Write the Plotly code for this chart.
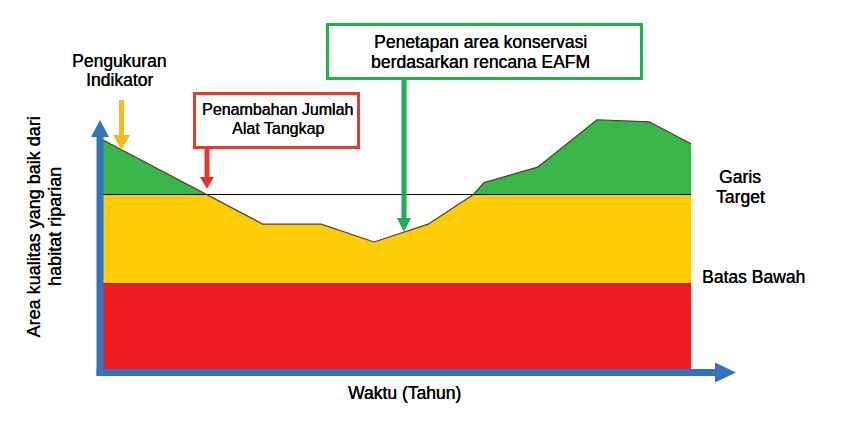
import numpy as np
import plotly.graph_objects as go

# ---------------- data ----------------
years = [0, 17.6, 27.2, 37.1, 46.1, 55.3, 63.0, 64.8, 73.9, 84.0, 92.9, 100]
quality = [78.4, 60, 50, 50, 44, 50, 60, 64, 69.2, 85.2, 84.5, 77.1]
target_level = 60
lower_level = 30
band_x = [0, 100]

x_title = "Waktu (Tahun)"
y_title_lines = ["Area kualitas yang baik dari", "habitat riparian"]
target_label = ["Garis", "Target"]
lower_label = "Batas Bawah"
note_measure = ["Pengukuran", "Indikator"]
note_gear = ["Penambahan Jumlah", "Alat Tangkap"]
note_conserve = ["Penetapan area konservasi", "berdasarkan rencana EAFM"]

# ---------------- styling ----------------
W, H = 852, 424
GREEN = "#39B54A"
YELLOW = "#FFCC06"
RED = "#ED1C24"
BLUE = "#3474BA"
FONT = "Liberation Sans, Arial, sans-serif"

# page-pixel -> data helpers (for decorations only)
PX_PER_X = 5.88
PX_PER_Y = 2.9667
X0_PX, Y0_PX = 103, 372.5


def X(px):
    return (px - X0_PX) / PX_PER_X


def Y(py):
    return (Y0_PX - py) / PX_PER_Y


q = np.array(quality, dtype=float)
yellow_top = np.minimum(q, target_level)
green_top = np.maximum(q, target_level)

fig = go.Figure()

# red band
fig.add_trace(go.Scatter(x=band_x, y=[lower_level] * 2, mode="lines",
                         fill="tozeroy", fillcolor=RED,
                         line=dict(width=0), hoverinfo="skip"))
# yellow band
fig.add_trace(go.Scatter(x=years, y=yellow_top, mode="lines",
                         fill="tonexty", fillcolor=YELLOW,
                         line=dict(width=0), hoverinfo="skip"))
# base at target for green fill
fig.add_trace(go.Scatter(x=band_x, y=[target_level] * 2, mode="lines",
                         line=dict(width=0), hoverinfo="skip"))
fig.add_trace(go.Scatter(x=years, y=green_top, mode="lines",
                         fill="tonexty", fillcolor=GREEN,
                         line=dict(width=0), hoverinfo="skip"))
# lower limit line
fig.add_trace(go.Scatter(x=band_x, y=[lower_level] * 2, mode="lines",
                         line=dict(color="#9A1C1C", width=1.2), hoverinfo="skip"))
# target line
fig.add_trace(go.Scatter(x=band_x, y=[target_level] * 2, mode="lines",
                         line=dict(color="#000000", width=1.1), hoverinfo="skip"))
# quality curve outline
fig.add_trace(go.Scatter(x=years, y=quality, mode="lines",
                         line=dict(color="#45452E", width=1.2), hoverinfo="skip"))

shapes = []


def seg(x0, y0, x1, y1, color, width):
    shapes.append(dict(type="line", xref="x", yref="y",
                       x0=X(x0), y0=Y(y0), x1=X(x1), y1=Y(y1),
                       line=dict(color=color, width=width)))


def tri(pts, color):
    path = "M " + " L ".join(f"{X(a):.4f},{Y(b):.4f}" for a, b in pts) + " Z"
    shapes.append(dict(type="path", xref="x", yref="y", path=path,
                       fillcolor=color, line=dict(width=0)))


def box(x0, y0, x1, y1, color):
    shapes.append(dict(type="rect", xref="x", yref="y",
                       x0=X(x0), y0=Y(y0), x1=X(x1), y1=Y(y1),
                       fillcolor="white", line=dict(color=color, width=3)))


# axes arrows
seg(100, 376, 100, 136, BLUE, 7)
tri([(91, 137), (109, 137), (100, 120)], BLUE)
seg(96.5, 372.5, 716, 372.5, BLUE, 7)
tri([(715, 362.5), (715, 382.5), (736, 372.5)], BLUE)

# annotation arrows
seg(121.5, 100, 121.5, 136, "#F6B820", 5)
tri([(113, 135), (130, 135), (121.5, 150)], "#F6B820")
seg(207, 149, 207, 178, "#E8352A", 5)
tri([(200, 177), (214, 177), (207, 189)], "#E8352A")
seg(404, 80, 404, 219, "#1FAE55", 5)
tri([(397, 218), (411, 218), (404, 232)], "#1FAE55")

# boxes
box(327.5, 24.5, 641.5, 78.5, "#22B24C")
box(194.5, 93.5, 358.5, 147.5, "#E33B2C")

annotations = []


def txt(s, cx, cy, size=17.5, xanchor="center", angle=0):
    annotations.append(dict(text=s, x=X(cx), y=Y(cy), xref="x", yref="y",
                            showarrow=False, xanchor=xanchor, yanchor="middle",
                            textangle=angle,
                            font=dict(family=FONT, size=size, color="#000000",
                                      shadow="0.35px 0 0 #000000")))


txt(note_conserve[0], 480, 42)
txt(note_conserve[1], 480, 62)
txt(note_gear[0], 277.5, 109, size=16)
txt(note_gear[1], 277.5, 128, size=16)
txt(note_measure[0], 119, 61)
txt(note_measure[1], 119, 80)
txt(target_label[0], 740, 177)
txt(target_label[1], 740, 197)
txt(lower_label, 753, 277)
txt(x_title, 404, 393)
txt(y_title_lines[0], 33.5, 227, size=18, angle=-90)
txt(y_title_lines[1], 55, 227, size=18, angle=-90)

fig.update_layout(
    width=W, height=H,
    margin=dict(l=0, r=0, t=0, b=0),
    paper_bgcolor="white", plot_bgcolor="white",
    showlegend=False,
    xaxis=dict(range=[X(0), X(W)], visible=False, fixedrange=True),
    yaxis=dict(range=[Y(H), Y(0)], visible=False, fixedrange=True),
    shapes=shapes,
    annotations=annotations,
)

fig.write_html("out.html", config={"displayModeBar": False},
               post_script="document.body.style.margin='0';document.body.style.overflow='hidden';")
